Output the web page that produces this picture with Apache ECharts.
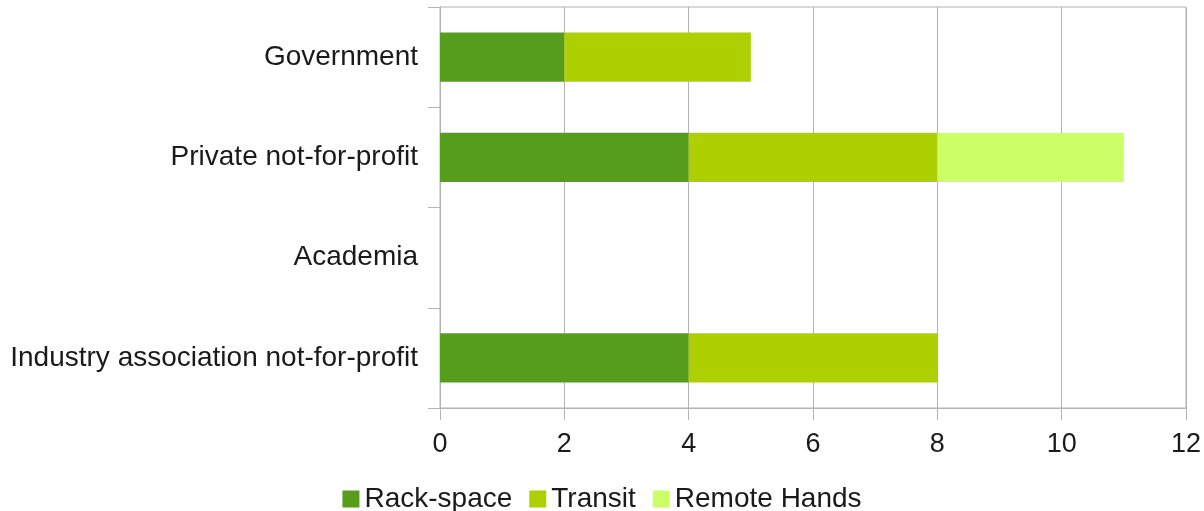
<!DOCTYPE html>
<html>
<head>
<meta charset="utf-8">
<script src="https://cdn.jsdelivr.net/npm/echarts@6/dist/echarts.min.js"></script>
<style>
  html, body { margin: 0; padding: 0; background: #fff; }
  #chart { width: 1204px; height: 511px; }
</style>
</head>
<body>
<div id="chart"></div>
<script>
// categories, bottom to top (category axis starts at the bottom)
const categories = ['Industry association not-for-profit', 'Academia', 'Private not-for-profit', 'Government'];
const rackSpace = [4, 0, 4, 2];
const transit = [4, 0, 4, 3];
const remoteHands = [0, 0, 3, 0];
const xTicks = [0, 12, 2]; // min, max, interval

const myChart = echarts.init(document.getElementById('chart'));

const gridColor = '#b3b3b3';
const font = 'Liberation Sans';
const textColor = '#1a1a1a';

const option = {
  animation: false,
  grid: {
    left: 440,
    right: 17,
    top: 7,
    bottom: 103,
    show: true,
    borderColor: gridColor,
    borderWidth: 1,
  },
  legend: {
    bottom: -7,
    left: 'center',
    icon: 'rect',
    itemWidth: 17,
    itemHeight: 17,
    itemGap: 17,
    textStyle: { fontFamily: font, fontSize: 28, color: textColor },
    data: ['Rack-space', 'Transit', 'Remote Hands'],
  },
  xAxis: {
    type: 'value',
    min: xTicks[0],
    max: xTicks[1],
    interval: xTicks[2],
    axisLine: { show: true, lineStyle: { color: gridColor } },
    axisTick: { show: true, length: 12, lineStyle: { color: gridColor } },
    axisLabel: { fontFamily: font, fontSize: 27, color: textColor, margin: 23 },
    splitLine: { show: true, lineStyle: { color: gridColor } },
  },
  yAxis: {
    type: 'category',
    data: categories,
    axisLine: { show: true, lineStyle: { color: gridColor } },
    axisTick: { show: true, length: 12, lineStyle: { color: gridColor } },
    axisLabel: { fontFamily: font, fontSize: 28, color: textColor, margin: 22, padding: [8, 0, 0, 0] },
    splitLine: { show: false },
  },
  series: [
    {
      name: 'Rack-space',
      type: 'bar',
      stack: 'total',
      barWidth: '49%',
      itemStyle: { color: '#579d1c' },
      data: rackSpace,
    },
    {
      name: 'Transit',
      type: 'bar',
      stack: 'total',
      itemStyle: { color: '#aecf00' },
      data: transit,
    },
    {
      name: 'Remote Hands',
      type: 'bar',
      stack: 'total',
      itemStyle: { color: '#ccff66' },
      data: remoteHands,
    },
  ],
};

myChart.setOption(option);
window.addEventListener('resize', () => {
  myChart.resize();
});
</script>
</body>
</html>
